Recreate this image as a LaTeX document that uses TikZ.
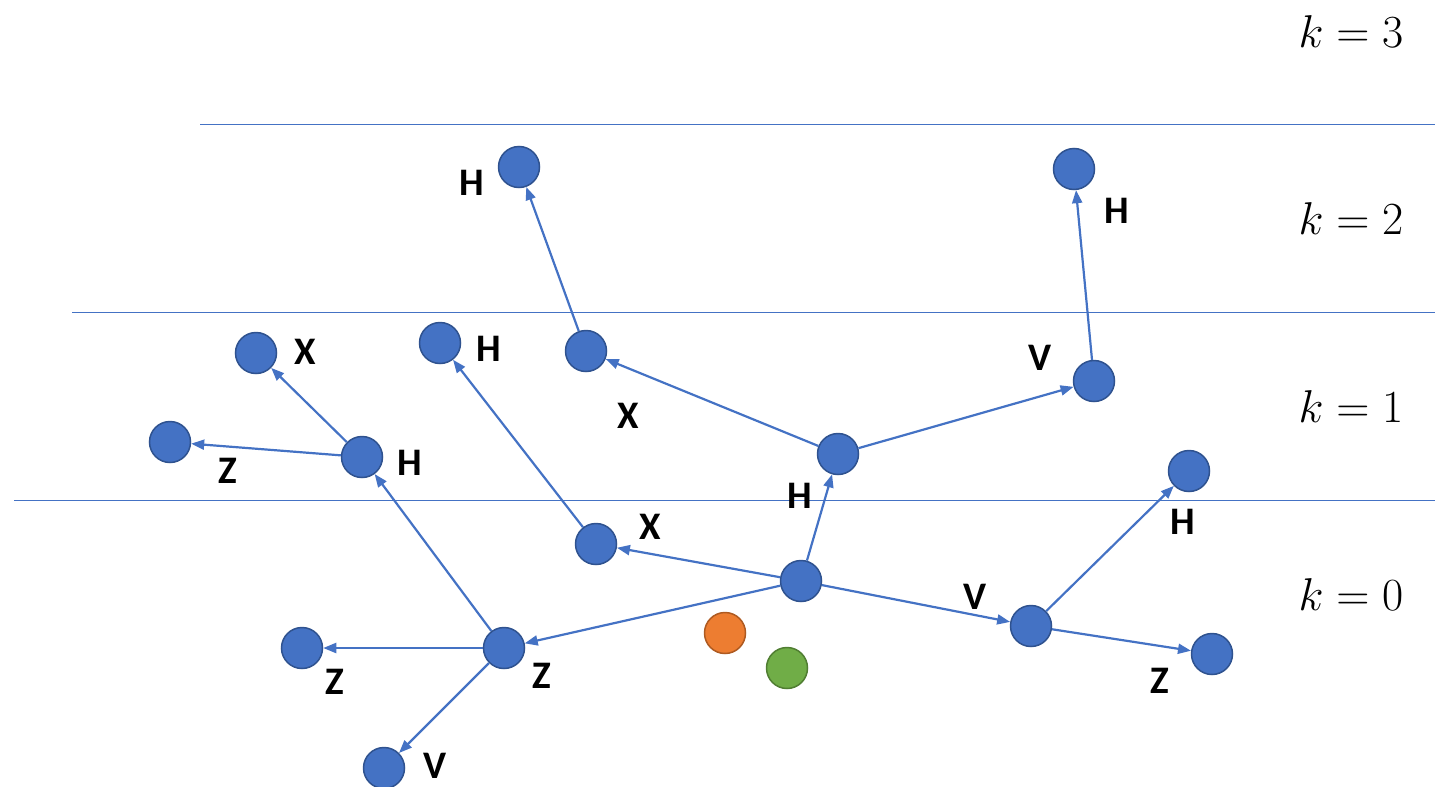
\RequirePackage{fix-cm}
\documentclass[tikz,border=0pt]{standalone}
\usepackage{fontspec}
\setmainfont{Carlito}
\usetikzlibrary{arrows.meta}
\definecolor{nodeblue}{HTML}{4472C4}
\definecolor{nodeedge}{HTML}{2F528F}
\definecolor{orfill}{HTML}{ED7D31}
\definecolor{oredge}{HTML}{AE5A21}
\definecolor{grfill}{HTML}{70AD47}
\definecolor{gredge}{HTML}{507E32}
\tikzset{
  dot/.style={circle,minimum size=41pt,inner sep=0pt,fill=nodeblue,draw=nodeedge,line width=1.5pt},
  odot/.style={dot,fill=orfill,draw=oredge},
  gdot/.style={dot,fill=grfill,draw=gredge},
  lbl/.style={font=\fontsize{39}{42}\selectfont\bfseries,inner sep=0pt},
  klbl/.style={font=\fontsize{46}{50}\selectfont,inner sep=0pt},
  edge/.style={draw=nodeblue,line width=2.2pt,-{Triangle[length=13pt,width=10pt]}},
  level/.style={draw=nodeblue,line width=1pt}
}
\begin{document}
\begin{tikzpicture}[x=1pt,y=-1pt]
\useasboundingbox (0,0) rectangle (1443,787);
% level lines
\coordinate (l3a) at (200,124); \coordinate (l3b) at (1435,124);
\coordinate (l2a) at (72,312); \coordinate (l2b) at (1435,312);
\coordinate (l1a) at (14,500); \coordinate (l1b) at (1435,500);
\draw[level] (l3a) -- (l3b);
\draw[level] (l2a) -- (l2b);
\draw[level] (l1a) -- (l1b);
% k labels
\node[klbl] (k3) at (1351,32) {$k=3$};
\node[klbl] (k2) at (1351,219) {$k=2$};
\node[klbl] (k1) at (1351,407) {$k=1$};
\node[klbl] (k0) at (1351,595) {$k=0$};
% nodes
\node[dot] (R) at (801,581) {};
\node[dot] (Z1) at (504,648) {};
\node[dot] (X1) at (596,544) {};
\node[dot] (H1) at (838,454) {};
\node[dot] (V1) at (1031,626) {};
\node[dot] (ZL) at (302,648) {};
\node[dot] (VB) at (384,768) {};
\node[dot] (H2) at (362,457) {};
\node[dot] (X2) at (256,353) {};
\node[dot] (Z2) at (170,442) {};
\node[dot] (HX) at (440,343) {};
\node[dot] (XH) at (586,351) {};
\node[dot] (HT) at (519,167) {};
\node[dot] (VH) at (1094,381) {};
\node[dot] (HTR) at (1074,169) {};
\node[dot] (HV) at (1189,471) {};
\node[dot] (ZV) at (1212,654) {};
\node[odot] (OR) at (725,633) {};
\node[gdot] (GR) at (787,668) {};
% edges
\draw[edge] (R) -- (Z1);
\draw[edge] (R) -- (X1);
\draw[edge] (R) -- (H1);
\draw[edge] (R) -- (V1);
\draw[edge] (Z1) -- (ZL);
\draw[edge] (Z1) -- (VB);
\draw[edge] (Z1) -- (H2);
\draw[edge] (H2) -- (X2);
\draw[edge] (H2) -- (Z2);
\draw[edge] (X1) -- (HX);
\draw[edge] (H1) -- (XH);
\draw[edge] (H1) -- (VH);
\draw[edge] (XH) -- (HT);
\draw[edge] (VH) -- (HTR);
\draw[edge] (V1) -- (HV);
\draw[edge] (V1) -- (ZV);
% labels
\node[lbl] (tHT) at (472,183) {H};
\node[lbl] (tHTR) at (1117,211) {H};
\node[lbl] (tX2) at (305,352) {X};
\node[lbl] (tHX) at (489,349) {H};
\node[lbl] (tXH) at (628,416) {X};
\node[lbl] (tVH) at (1040,358) {V};
\node[lbl] (tZ2) at (228,471) {Z};
\node[lbl] (tH2) at (410,463) {H};
\node[lbl] (tH1) at (800,496) {H};
\node[lbl] (tX1) at (650,527) {X};
\node[lbl] (tHV) at (1183,522) {H};
\node[lbl] (tV1) at (975,597) {V};
\node[lbl] (tZL) at (335,682) {Z};
\node[lbl] (tZ1) at (542,676) {Z};
\node[lbl] (tZV) at (1160,681) {Z};
\node[lbl] (tVB) at (435,766) {V};
\end{tikzpicture}
\end{document}
